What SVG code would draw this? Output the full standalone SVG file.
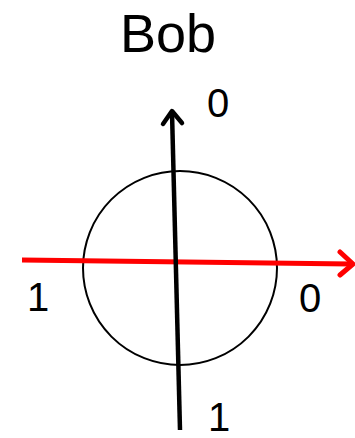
<svg xmlns="http://www.w3.org/2000/svg" width="355" height="438" viewBox="0 0 355 438">
<style>
.lbl{font-family:"Liberation Sans",Arial,sans-serif;font-size:40px;fill:#000;text-anchor:middle}
.ttl{font-family:"Liberation Sans",Arial,sans-serif;font-size:54px;fill:#000;text-anchor:middle}
.head{fill:none;stroke-linecap:round;stroke-linejoin:round}
</style>
<rect width="355" height="438" fill="#fff"/>
<g id="title"><text class="ttl" x="168" y="52">Bob</text></g>
<g id="circle"><circle cx="180" cy="268" r="97" fill="none" stroke="#000" stroke-width="2"/></g>
<g id="connectors">
<line x1="22" y1="260" x2="351" y2="264" stroke="#ff0000" stroke-width="5"/>
<polyline class="head" points="340,252 353,264 340,275" stroke="#ff0000" stroke-width="5"/>
<line x1="180" y1="430" x2="172" y2="112" stroke="#000" stroke-width="4.5"/>
<polyline class="head" points="163,124 172,111 182,123" stroke="#000" stroke-width="4.5"/>
</g>
<g id="labels">
<text class="lbl" x="218" y="117">0</text>
<text class="lbl" x="310" y="312">0</text>
<text class="lbl" x="38" y="311">1</text>
<text class="lbl" x="219" y="431">1</text>
</g>
</svg>
